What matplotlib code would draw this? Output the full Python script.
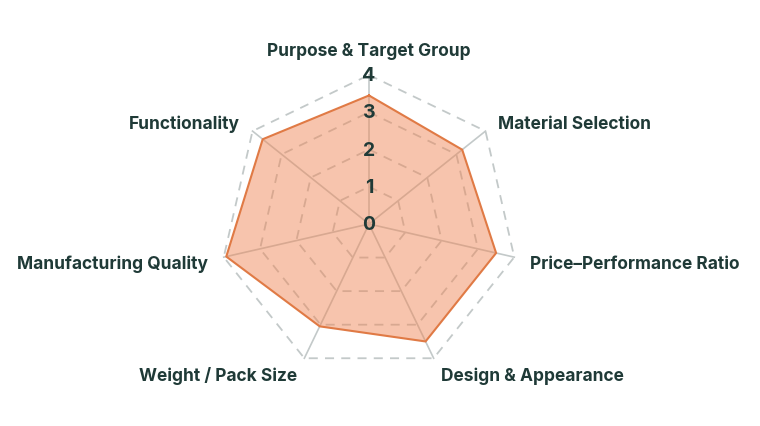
import numpy as np
import matplotlib
matplotlib.use("Agg")
import matplotlib.pyplot as plt
from matplotlib.transforms import offset_copy

categories = ["Purpose & Target Group", "Material Selection", "Price–Performance Ratio",
              "Design & Appearance", "Weight / Pack Size", "Manufacturing Quality", "Functionality"]
values = [3.45, 3.2, 3.5, 3.5, 3.05, 3.93, 3.65]
ticks = [0, 1, 2, 3, 4]
rmax = 4

plt.rcParams['font.family'] = ['Inter', 'DejaVu Sans']
text_color = "#1f3a37"
grid_color = "#c3c9c9"
line_color = "#e07a45"
fill_color = "#ef8554"

fig = plt.figure(figsize=(7.6, 4.27), dpi=100)
cx, cy, R = 369 / 760, (427 - 225) / 427, 149
ax = fig.add_axes([cx - R / 760, cy - R / 427, 2 * R / 760, 2 * R / 427], projection='polar')
ax.set_theta_offset(np.pi / 2)
ax.set_theta_direction(-1)
ax.set_ylim(0, rmax)
ax.axis('off')

n = len(categories)
angles = np.arange(n) * 2 * np.pi / n
closed = np.append(angles, angles[0])

# polygon grid
for t in ticks[1:]:
    ax.plot(closed, [t] * (n + 1), color=grid_color, lw=1.3, ls=(0, (5, 4)), zorder=1, clip_on=False)
for a in angles:
    ax.plot([a, a], [0, rmax], color=grid_color, lw=1.2, zorder=1, clip_on=False)

vals = np.append(values, values[0])
ax.fill(closed, vals, color=fill_color, alpha=0.48, zorder=2, lw=0)
ax.plot(closed, vals, color=line_color, lw=1.5, zorder=3)

for t in ticks:
    ax.text(0, t, str(t), ha='center', va='center', fontsize=14, fontweight='bold',
            color=text_color, zorder=5)

lab_r = rmax * 165 / 149
for a, lab in zip(angles, categories):
    s, c = np.sin(a), np.cos(a)
    if abs(s) < 0.1:
        ha = 'center'
    elif s > 0:
        ha = 'left'
    else:
        ha = 'right'
    if c > 0.95:
        va = 'bottom'
        tr = ax.transData
    elif c < -0.95:
        va = 'top'
        tr = ax.transData
    else:
        va = 'center'
        tr = offset_copy(ax.transData, fig=fig, x=0, y=-2.5, units='dots')
    ax.text(a, lab_r, lab, ha=ha, va=va, fontsize=12.5, fontweight='bold', color=text_color,
            transform=tr)

fig.savefig("out.png", dpi=100)
